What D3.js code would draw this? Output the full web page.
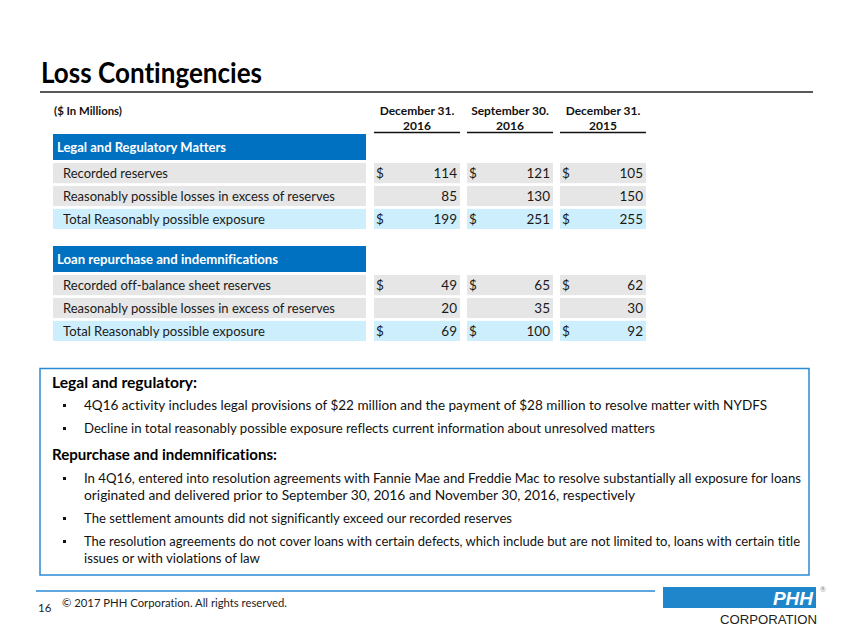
<!DOCTYPE html>
<html><head><meta charset="utf-8">
<script src="https://cdn.jsdelivr.net/npm/d3@7"></script>
<style>
html,body{margin:0;padding:0;background:#fff;}
svg{display:block;font-family:Lato,"Open Sans",sans-serif;font-variant-ligatures:none;font-feature-settings:"liga" 0,"clig" 0;}
</style></head>
<body>
<svg id="c" width="847" height="635"></svg>
<script>
// ---- data ----
const title = "Loss Contingencies";
const unitsLabel = "($ In Millions)";
const periodMonths = ["December 31.", "September 30.", "December 31."];
const periodYears = ["2016", "2016", "2015"];
const rowLabels = ["Recorded reserves", "Reasonably possible losses in excess of reserves", "Total Reasonably possible exposure"];
const legalTitle = "Legal and Regulatory Matters";
const legalRecorded = [114, 121, 105];
const legalExcess = [85, 130, 150];
const legalTotal = [199, 251, 255];
const loanTitle = "Loan repurchase and indemnifications";
const loanRowLabels = ["Recorded off-balance sheet reserves", "Reasonably possible losses in excess of reserves", "Total Reasonably possible exposure"];
const loanRecorded = [49, 65, 62];
const loanExcess = [20, 35, 30];
const loanTotal = [69, 100, 92];
const showDollar = [true, false, true];
const legalHeading = "Legal and regulatory:";
const legalBullets = [
  ["4Q16 activity includes legal provisions of $22 million and the payment of $28 million to resolve matter with NYDFS"],
  ["Decline in total reasonably possible exposure reflects current information about unresolved matters"]
];
const repHeading = "Repurchase and indemnifications:";
const repBullets = [
  ["In 4Q16, entered into resolution agreements with Fannie Mae and Freddie Mac to resolve substantially all exposure for loans",
   "originated and delivered prior to September 30, 2016 and November 30, 2016, respectively"],
  ["The settlement amounts did not significantly exceed our recorded reserves"],
  ["The resolution agreements do not cover loans with certain defects, which include but are not limited to, loans with certain title",
   "issues or with violations of law"]
];
const pageNumber = "16";
const copyright = "\u00A9  2017 PHH Corporation. All rights reserved.";

// ---- drawing ----
const svg = d3.select("#c");
const BLUE = "#0070c0", GRAY = "#e6e6e6", LIGHT = "#cdeefc", TXT = "#1a1a1a";

// title
svg.append("text").attr("x", 41).attr("y", 83).text(title)
  .attr("font-size", 28.5).attr("font-weight", 700).attr("fill", "#000")
  .attr("textLength", 221).attr("lengthAdjust", "spacingAndGlyphs");
svg.append("line").attr("x1", 40).attr("x2", 813).attr("y1", 92).attr("y2", 92)
  .attr("stroke", "#222").attr("stroke-width", 1.5);
svg.append("text").attr("x", 54).attr("y", 115).text(unitsLabel)
  .attr("font-size", 10.5).attr("font-weight", 700).attr("fill", "#111")
  .attr("textLength", 68).attr("lengthAdjust", "spacingAndGlyphs");

// columns
const x = d3.scaleBand().domain(d3.range(3)).range([374, 646]).paddingInner(0.075).paddingOuter(0);
const cols = svg.append("g").selectAll("g").data(d3.range(3)).join("g");
cols.append("text").attr("x", i => x(i) + x.bandwidth() / 2).attr("y", 115)
  .attr("text-anchor", "middle").attr("font-size", 12).attr("font-weight", 700).attr("fill", "#111")
  .text(i => periodMonths[i]);
cols.append("text").attr("x", i => x(i) + x.bandwidth() / 2).attr("y", 130)
  .attr("text-anchor", "middle").attr("font-size", 12).attr("font-weight", 700).attr("fill", "#111")
  .text(i => periodYears[i]);
cols.append("line").attr("x1", i => x(i)).attr("x2", i => x(i) + x.bandwidth())
  .attr("y1", 132.5).attr("y2", 132.5).attr("stroke", "#111").attr("stroke-width", 1.3);

function section(top, heading, labels, rows, labelWidths, headW) {
  const g = svg.append("g");
  g.append("rect").attr("x", 53).attr("y", top).attr("width", 313).attr("height", 26).attr("fill", BLUE);
  g.append("text").attr("x", 57).attr("y", top + 18).text(heading)
    .attr("font-size", 13.5).attr("font-weight", 700).attr("fill", "#fff")
    .attr("textLength", headW).attr("lengthAdjust", "spacingAndGlyphs");
  const y = d3.scaleBand().domain(d3.range(3)).range([top + 29, top + 95]).paddingInner(0.12);
  const fills = [GRAY, GRAY, LIGHT];
  const rg = g.selectAll("g.row").data(d3.range(3)).join("g").attr("class", "row");
  rg.append("rect").attr("x", 53).attr("y", r => y(r)).attr("width", 313).attr("height", y.bandwidth())
    .attr("fill", r => fills[r]);
  rg.append("text").attr("x", 63).attr("y", r => y(r) + y.bandwidth() / 2 + 5)
    .attr("font-size", 13.5).attr("fill", TXT).text(r => labels[r])
    .attr("textLength", r => labelWidths[r]).attr("lengthAdjust", "spacingAndGlyphs");
  rg.each(function (r) {
    const cg = d3.select(this).selectAll("g").data(d3.range(3)).join("g");
    cg.append("rect").attr("x", i => x(i)).attr("y", y(r)).attr("width", x.bandwidth()).attr("height", y.bandwidth())
      .attr("fill", fills[r]);
    cg.filter(() => showDollar[r]).append("text").attr("x", i => x(i) + 2).attr("y", y(r) + y.bandwidth() / 2 + 5)
      .attr("font-size", 13.5).attr("fill", TXT).text("$");
    cg.append("text").attr("x", i => x(i) + x.bandwidth() - 3).attr("y", y(r) + y.bandwidth() / 2 + 5)
      .attr("text-anchor", "end").attr("font-size", 13.5).attr("fill", TXT).text(i => rows[r][i]);
  });
}
section(134, legalTitle, rowLabels, [legalRecorded, legalExcess, legalTotal], [105, 272, 202], 169);
section(246, loanTitle, loanRowLabels, [loanRecorded, loanExcess, loanTotal], [208, 272, 202], 221);

// commentary box
svg.append("rect").attr("x", 40).attr("y", 368.5).attr("width", 769).attr("height", 206.5)
  .attr("fill", "#fff").attr("stroke", "#2a8ad4").attr("stroke-width", 1.5);

const lineWidths = {
  "4Q16": 683, "Decline": 571, "In 4Q16,": 717, "originated": 551, "The settlement": 428,
  "The resolution": 716, "issues": 176
};
function widthFor(s) {
  for (const k of ["In 4Q16,", "4Q16", "Decline", "originated", "The settlement", "The resolution", "issues"]) {
    if (s.startsWith(k)) return lineWidths[k];
  }
  return null;
}
function block(headY, heading, headW, bullets, starts) {
  svg.append("text").attr("x", 52).attr("y", headY).text(heading)
    .attr("font-size", 16).attr("font-weight", 700).attr("fill", "#000")
    .attr("textLength", headW).attr("lengthAdjust", "spacingAndGlyphs");
  bullets.forEach((b, i) => {
    svg.append("rect").attr("x", 63).attr("y", starts[i] - 6).attr("width", 3).attr("height", 3).attr("fill", "#111");
    b.forEach((ln, j) => {
      const t = svg.append("text").attr("x", 84).attr("y", starts[i] + j * 17).text(ln)
        .attr("font-size", 13.5).attr("fill", "#111");
      const w = widthFor(ln);
      if (w) t.attr("textLength", w).attr("lengthAdjust", "spacingAndGlyphs");
    });
  });
}
block(388, legalHeading, 145, legalBullets, [410, 433]);
block(460, repHeading, 225, repBullets, [483, 523, 546]);

// footer
svg.append("line").attr("x1", 36).attr("x2", 655).attr("y1", 591).attr("y2", 591)
  .attr("stroke", "#2a8ad4").attr("stroke-width", 1.5);
svg.append("text").attr("x", 38).attr("y", 612).text(pageNumber).attr("font-size", 11.5).attr("fill", "#222");
svg.append("text").attr("x", 62).attr("y", 607).text(copyright).attr("font-size", 10.5).attr("fill", "#222")
  .attr("textLength", 225).attr("lengthAdjust", "spacingAndGlyphs");
svg.append("rect").attr("x", 663).attr("y", 587).attr("width", 153).attr("height", 21).attr("fill", "#1f86cc");
svg.append("text").attr("x", 813).attr("y", 605).attr("text-anchor", "end").text("PHH")
  .attr("font-size", 19).attr("font-weight", 900).attr("font-style", "italic").attr("fill", "#fff")
  .attr("font-family", "'Liberation Sans',Arial,sans-serif");
svg.append("text").attr("x", 823).attr("y", 592).attr("text-anchor", "middle").text("\u00AE")
  .attr("font-size", 7).attr("fill", "#888");
svg.append("text").attr("x", 817).attr("y", 624).attr("text-anchor", "end").text("CORPORATION")
  .attr("font-size", 13).attr("fill", "#222").attr("font-family", "'Liberation Sans',Arial,sans-serif")
  .attr("textLength", 97).attr("lengthAdjust", "spacingAndGlyphs");
</script>
</body></html>
